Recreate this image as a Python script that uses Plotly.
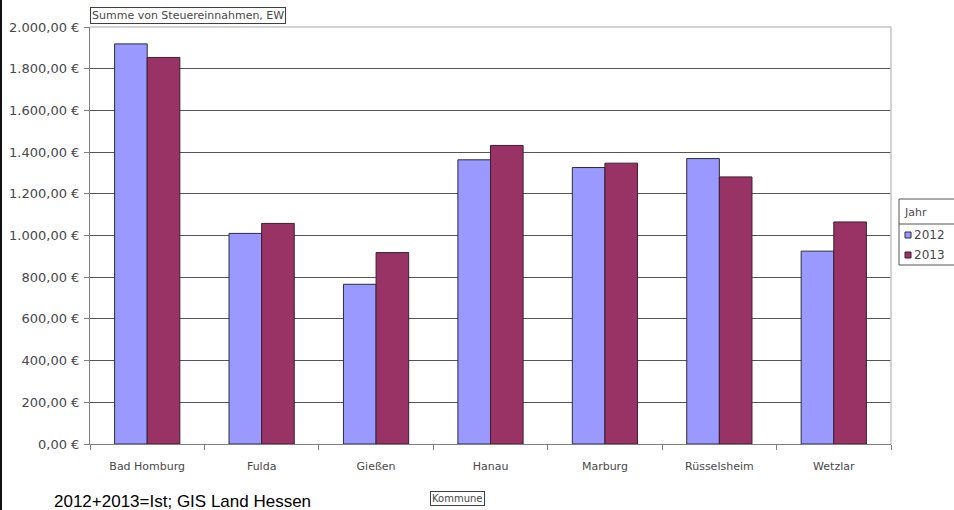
import plotly.graph_objects as go

categories = ["Bad Homburg", "Fulda", "Gießen", "Hanau", "Marburg", "Rüsselsheim", "Wetzlar"]
values_2012 = [1919, 1010, 766, 1363, 1326, 1369, 925]
values_2013 = [1854, 1058, 918, 1432, 1347, 1281, 1065]
series_names = ["2012", "2013"]
y_tickvals = [0, 200, 400, 600, 800, 1000, 1200, 1400, 1600, 1800, 2000]
y_ticktext = ["0,00 €", "200,00 €", "400,00 €", "600,00 €", "800,00 €", "1.000,00 €",
              "1.200,00 €", "1.400,00 €", "1.600,00 €", "1.800,00 €", "2.000,00 €"]

W, H = 954, 510
ML, MR, MT, MB = 90, 63, 27, 66
PW, PH = W - ML - MR, H - MT - MB


def px(x):
    return (x - ML) / PW


def py(y):
    return (H - MB - y) / PH


C2012 = "#9999FF"
C2013 = "#993366"
FONT = "DejaVu Sans"
TXT = "#484848"

fig = go.Figure()
fig.add_trace(go.Bar(x=categories, y=values_2012, name=series_names[0], marker_color=C2012,
                     marker_line=dict(color="#2a2a40", width=1), showlegend=False))
fig.add_trace(go.Bar(x=categories, y=values_2013, name=series_names[1], marker_color=C2013,
                     marker_line=dict(color="#3a2030", width=1), showlegend=False))

fig.update_layout(
    width=W, height=H,
    margin=dict(l=ML, r=MR, t=MT, b=MB, autoexpand=False),
    paper_bgcolor="white", plot_bgcolor="white",
    barmode="group", bargap=0.43, bargroupgap=0,
    font=dict(family=FONT, size=11, color=TXT),
    xaxis=dict(showline=True, linecolor="#808080", linewidth=1, ticks="outside",
               tickson="boundaries", ticklen=5, tickcolor="#808080", automargin=False,
               tickfont=dict(family=FONT, size=11, color=TXT),
               ticklabelstandoff=12, showgrid=False),
    yaxis=dict(range=[0, 2000], tickvals=y_tickvals, ticktext=y_ticktext, automargin=False,
               showline=True, linecolor="#808080", linewidth=1, ticks="outside",
               ticklen=5, tickcolor="#808080", showgrid=True, gridcolor="#555555",
               gridwidth=1, zeroline=False, ticklabelstandoff=2,
               tickfont=dict(family=FONT, size=13, color=TXT)),
)

shapes = []
# plot border top/right (light grey)
shapes.append(dict(type="line", xref="paper", yref="paper", x0=0, x1=1, y0=1, y1=1,
                   line=dict(color="#c4c4c4", width=1.5), layer="above"))
shapes.append(dict(type="line", xref="paper", yref="paper", x0=1, x1=1, y0=0, y1=1,
                   line=dict(color="#c4c4c4", width=1.5), layer="above"))
# left black page border
shapes.append(dict(type="line", xref="paper", yref="paper", x0=px(1), x1=px(1), y0=py(0), y1=py(H),
                   line=dict(color="#111111", width=2)))
# legend box
shapes.append(dict(type="rect", xref="paper", yref="paper", x0=px(899), x1=px(970), y0=py(199), y1=py(265),
                   line=dict(color="#555555", width=1), fillcolor="white"))
shapes.append(dict(type="line", xref="paper", yref="paper", x0=px(899), x1=px(970), y0=py(224), y1=py(224),
                   line=dict(color="#555555", width=1)))
# legend swatches
for yc, col, lc in [(235, C2012, "#2a2a40"), (255, C2013, "#3a2030")]:
    shapes.append(dict(type="rect", xref="paper", yref="paper", x0=px(905), x1=px(911),
                       y0=py(yc + 3), y1=py(yc - 3), fillcolor=col, line=dict(color=lc, width=1)))
fig.update_layout(shapes=shapes)

ann = []
ann.append(dict(text="Jahr", xref="paper", yref="paper", x=px(902), y=py(212), xanchor="left",
                yanchor="middle", showarrow=False, font=dict(family=FONT, size=11, color=TXT)))
for yc, name in [(235, series_names[0]), (255, series_names[1])]:
    ann.append(dict(text=name, xref="paper", yref="paper", x=px(912), y=py(yc), xanchor="left",
                    yanchor="middle", showarrow=False, font=dict(family=FONT, size=12, color=TXT)))
# title box
ann.append(dict(text="Summe von Steuereinnahmen, EW", xref="paper", yref="paper", x=px(90), y=py(7),
                xanchor="left", yanchor="top", showarrow=False, bordercolor="#404040", borderwidth=1,
                borderpad=1, bgcolor="white", font=dict(family=FONT, size=11, color=TXT)))
# x-axis field button
ann.append(dict(text="Kommune", xref="paper", yref="paper", x=px(430), y=py(491),
                xanchor="left", yanchor="top", showarrow=False, bordercolor="#404040", borderwidth=1,
                borderpad=1, bgcolor="white", font=dict(family=FONT, size=10, color=TXT)))
# footnote
ann.append(dict(text="2012+2013=Ist; GIS Land Hessen", xref="paper", yref="paper", x=px(52), y=py(501),
                xanchor="left", yanchor="middle", showarrow=False,
                font=dict(family="Liberation Sans", size=17, color="#000000")))
fig.update_layout(annotations=ann)

fig.write_html("out.html")
